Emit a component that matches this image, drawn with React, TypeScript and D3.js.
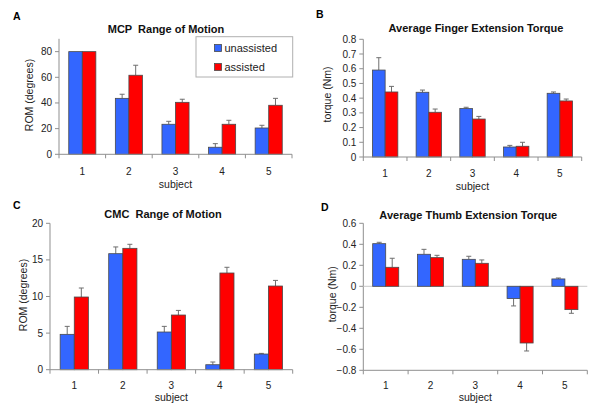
import React from "react";
import * as d3 from "d3";

const subjects = ["1", "2", "3", "4", "5"];
const seriesNames = ["unassisted", "assisted"];

const mcpUnassisted = [80, 43.6, 23.4, 5.5, 20.5];
const mcpUnassistedErr = [0, 3.2, 2.3, 2.8, 2.1];
const mcpAssisted = [80, 61.6, 40.5, 23.4, 38.2];
const mcpAssistedErr = [0, 7.8, 2.4, 3.1, 5.4];

const fingerUnassisted = [0.591, 0.44, 0.329, 0.068, 0.433];
const fingerUnassistedErr = [0.084, 0.015, 0.009, 0.011, 0.009];
const fingerAssisted = [0.442, 0.304, 0.258, 0.073, 0.381];
const fingerAssistedErr = [0.038, 0.022, 0.018, 0.027, 0.013];

const cmcUnassisted = [4.83, 15.85, 5.15, 0.68, 2.14];
const cmcUnassistedErr = [1.09, 0.92, 0.77, 0.37, 0.09];
const cmcAssisted = [9.93, 16.58, 7.47, 13.21, 11.43];
const cmcAssistedErr = [1.23, 0.55, 0.63, 0.78, 0.77];

const thumbUnassisted = [0.406, 0.305, 0.257, -0.117, 0.07];
const thumbUnassistedErr = [0.013, 0.047, 0.029, 0.07, 0.009];
const thumbAssisted = [0.181, 0.273, 0.219, -0.54, -0.222];
const thumbAssistedErr = [0.086, 0.022, 0.032, 0.076, 0.035];

const mcpTicks = [0, 20, 40, 60, 80];
const fingerTicks = [0, 0.1, 0.2, 0.3, 0.4, 0.5, 0.6, 0.7, 0.8];
const cmcTicks = [0, 5, 10, 15, 20];
const thumbTicks = [-0.8, -0.6, -0.4, -0.2, 0, 0.2, 0.4, 0.6];

const COLORS = ["#3366ff", "#ff0000"];
const FONT = "Liberation Sans, Arial, sans-serif";
const AXIS = "#8f8f8f";

type PanelProps = {
  letter: string;
  letterPos: [number, number];
  title: string;
  titlePos: [number, number];
  ylabel: string;
  ylabelPos: [number, number];
  left: number;
  right: number;
  top: number;
  bottom: number;
  domain: [number, number];
  ticks: number[];
  fmt: (v: number) => string;
  values: number[][];
  errors: number[][];
  tickLabelY: number;
  subjectY: number;
};

function Panel(p: PanelProps) {
  const y = d3.scaleLinear().domain(p.domain).range([p.bottom, p.top]);
  const x0 = d3.scaleBand().domain(subjects).range([p.left, p.right]).padding(0);
  const x1 = d3
    .scaleBand()
    .domain(seriesNames)
    .range([0, x0.bandwidth()])
    .paddingInner(0)
    .paddingOuter(0.72);
  const bw = x1.bandwidth();
  const zeroY = y(0);
  const hasNeg = p.domain[0] < 0;
  const axisY = p.bottom;
  const step = x0.step();
  const bounds = d3.range(subjects.length + 1).map((i) => p.left + i * step);
  return (
    <g fontFamily={FONT}>
      <text x={p.letterPos[0]} y={p.letterPos[1]} fontSize={10.5} fontWeight="bold" fill="#000">
        {p.letter}
      </text>
      <text
        x={p.titlePos[0]}
        y={p.titlePos[1]}
        fontSize={11}
        fontWeight="bold"
        textAnchor="middle"
        fill="#111"
        style={{ whiteSpace: "pre" }}
      >
        {p.title}
      </text>
      <text
        transform={`translate(${p.ylabelPos[0]},${p.ylabelPos[1]}) rotate(-90)`}
        fontSize={10.5}
        textAnchor="middle"
        fill="#222"
      >
        {p.ylabel}
      </text>
      {/* y axis */}
      <line x1={p.left} x2={p.left} y1={p.top} y2={p.bottom} stroke={AXIS} strokeWidth={1} />
      {p.ticks.map((t) => (
        <g key={t}>
          <line x1={p.left - 4} x2={p.left} y1={y(t)} y2={y(t)} stroke={AXIS} />
          <text x={p.left - 7} y={y(t) + 3.5} fontSize={10} textAnchor="end" fill="#222">
            {p.fmt(t)}
          </text>
        </g>
      ))}
      {hasNeg && (
        <line x1={p.left} x2={p.right} y1={zeroY} y2={zeroY} stroke="#c8c8c8" strokeWidth={1} />
      )}
      {/* bars */}
      {p.values.map((vals, si) =>
        vals.map((v, ci) => {
          const bx = (x0(subjects[ci]) as number) + (x1(seriesNames[si]) as number);
          const y1 = Math.min(y(v), zeroY);
          const h = Math.abs(y(v) - zeroY);
          const e = p.errors[si][ci];
          const cx = bx + bw / 2;
          const ev = v >= 0 ? v + e : v - e;
          return (
            <g key={`${si}-${ci}`}>
              {e > 0 && (
                <g stroke="#6e6e6e" strokeWidth={1}>
                  <line x1={cx} x2={cx} y1={y(v)} y2={y(ev)} />
                  <line x1={cx - 2.5} x2={cx + 2.5} y1={y(ev)} y2={y(ev)} />
                </g>
              )}
              <rect
                x={bx}
                y={y1}
                width={bw}
                height={h}
                fill={COLORS[si]}
                stroke="#4a4a4a"
                strokeWidth={0.8}
              />
            </g>
          );
        })
      )}
      {/* x axis */}
      <line x1={p.left} x2={p.right} y1={axisY} y2={axisY} stroke={AXIS} strokeWidth={1} />
      {bounds.map((bx, i) => (
        <line key={i} x1={bx} x2={bx} y1={axisY} y2={axisY + 4} stroke={AXIS} />
      ))}
      {subjects.map((s) => (
        <text
          key={s}
          x={(x0(s) as number) + step / 2}
          y={p.tickLabelY}
          fontSize={10}
          textAnchor="middle"
          fill="#222"
        >
          {s}
        </text>
      ))}
      <text x={(p.left + p.right) / 2} y={p.subjectY} fontSize={10.5} textAnchor="middle" fill="#222">
        subject
      </text>
    </g>
  );
}

export default function App() {
  const f0 = (v: number) => d3.format("d")(v);
  const f1 = (v: number) => (Math.abs(v) < 1e-9 ? "0" : d3.format(".1f")(v));
  return (
    <div style={{ position: "absolute", left: 0, top: 0 }}>
      <svg width={600} height={412} style={{ display: "block", background: "#fff" }}>
        <rect width={600} height={412} fill="#fff" />
        <Panel
          letter="A"
          letterPos={[13, 19.5]}
          title={"MCP  Range of Motion"}
          titlePos={[166, 33.3]}
          ylabel="ROM (degrees)"
          ylabelPos={[32.5, 95]}
          left={59}
          right={292}
          top={38.8}
          bottom={154.3}
          domain={[0, 90]}
          ticks={mcpTicks}
          fmt={f0}
          values={[mcpUnassisted, mcpAssisted]}
          errors={[mcpUnassistedErr, mcpAssistedErr]}
          tickLabelY={175}
          subjectY={187.5}
        />
        <Panel
          letter="B"
          letterPos={[316, 17.5]}
          title="Average Finger Extension Torque"
          titlePos={[476, 31.7]}
          ylabel="torque (Nm)"
          ylabelPos={[331, 94.5]}
          left={363.3}
          right={581.7}
          top={39.3}
          bottom={157}
          domain={[0, 0.8]}
          ticks={fingerTicks}
          fmt={f1}
          values={[fingerUnassisted, fingerAssisted]}
          errors={[fingerUnassistedErr, fingerAssistedErr]}
          tickLabelY={176.5}
          subjectY={189.5}
        />
        <Panel
          letter="C"
          letterPos={[13, 209]}
          title={"CMC  Range of Motion"}
          titlePos={[163, 218.3]}
          ylabel="ROM (degrees)"
          ylabelPos={[26.5, 295]}
          left={50}
          right={292.7}
          top={223.3}
          bottom={369.7}
          domain={[0, 20]}
          ticks={cmcTicks}
          fmt={f0}
          values={[cmcUnassisted, cmcAssisted]}
          errors={[cmcUnassistedErr, cmcAssistedErr]}
          tickLabelY={388.5}
          subjectY={401}
        />
        <Panel
          letter="D"
          letterPos={[321, 210.7]}
          title="Average Thumb Extension Torque"
          titlePos={[468.3, 219.3]}
          ylabel="torque (Nm)"
          ylabelPos={[336, 294.3]}
          left={363.3}
          right={587.3}
          top={223.3}
          bottom={370.3}
          domain={[-0.8, 0.6]}
          ticks={thumbTicks}
          fmt={f1}
          values={[thumbUnassisted, thumbAssisted]}
          errors={[thumbUnassistedErr, thumbAssistedErr]}
          tickLabelY={389}
          subjectY={401}
        />
        {/* legend for panel A */}
        <g fontFamily={FONT}>
          <rect x={196} y={36.7} width={96.7} height={40.3} fill="#fff" stroke="#b0b0b0" strokeWidth={1} />
          {seriesNames.map((s, i) => (
            <g key={s}>
              <rect
                x={214.5}
                y={45 + i * 19 - 0.5}
                width={7}
                height={7}
                fill={COLORS[i]}
                stroke="#4a4a4a"
                strokeWidth={0.8}
              />
              <text x={224.5} y={52.3 + i * 19} fontSize={11} fill="#222">
                {s}
              </text>
            </g>
          ))}
        </g>
      </svg>
    </div>
  );
}
